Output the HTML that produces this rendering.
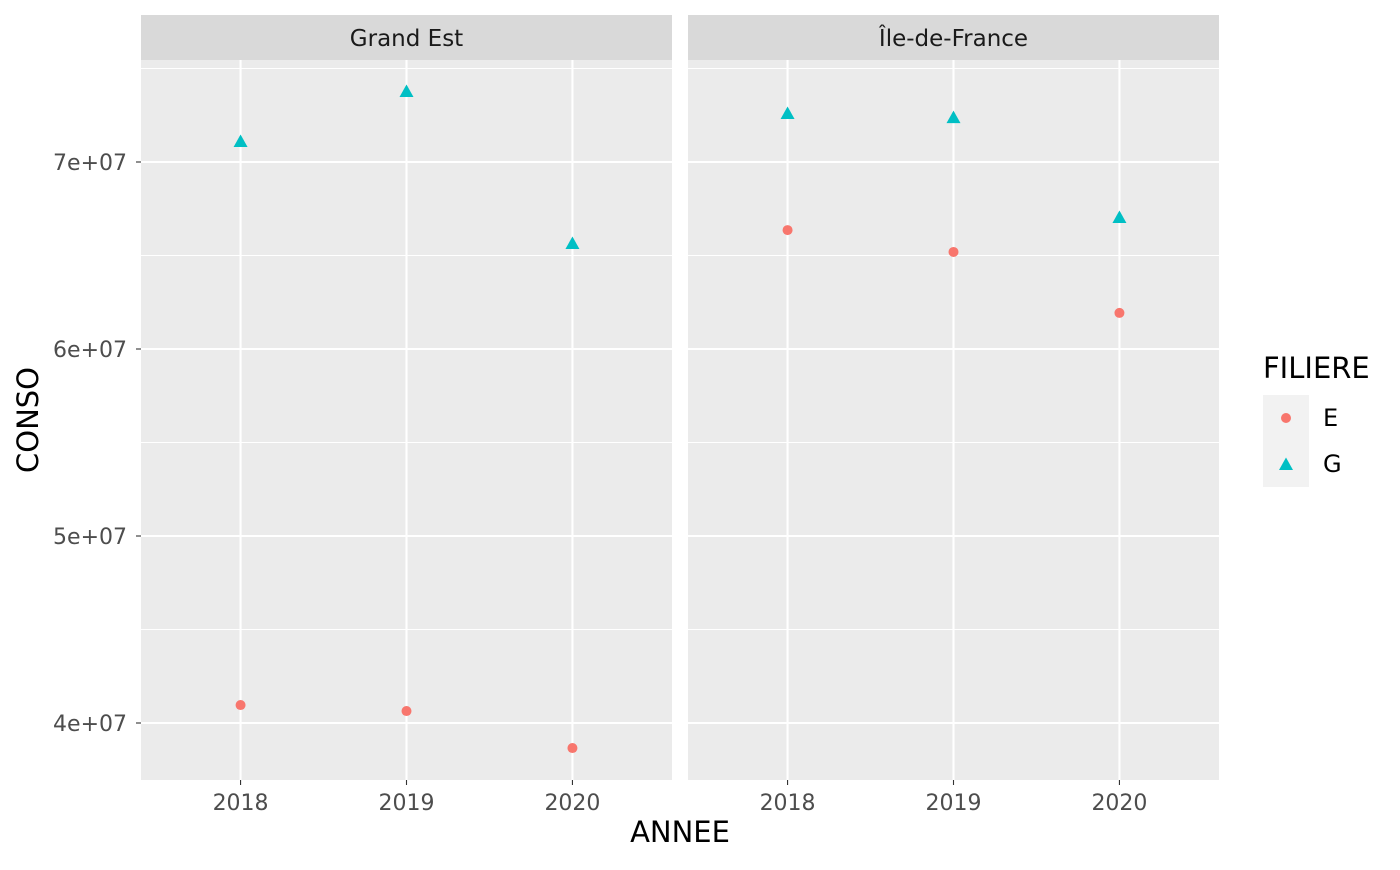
<!DOCTYPE html>
<html><head><meta charset="utf-8">
<style>
html,body{margin:0;padding:0;background:#fff;}
svg text{font-family:"DejaVu Sans","Liberation Sans",sans-serif;}
</style></head>
<body>
<svg id="chart" width="1400" height="865" xmlns="http://www.w3.org/2000/svg">
</svg>
<script>
const panels = ["Grand Est", "Île-de-France"];
const years = [2018, 2019, 2020];
const grandEstE = [40.96e6, 40.64e6, 38.66e6];
const grandEstG = [71.12e6, 73.8e6, 65.67e6];
const idfE = [66.36e6, 65.19e6, 61.93e6];
const idfG = [72.62e6, 72.4e6, 67.06e6];
const yTicks = [4e7, 5e7, 6e7, 7e7];
const yTickLabels = ["4e+07", "5e+07", "6e+07", "7e+07"];
const yMinor = [3.5e7, 4.5e7, 5.5e7, 6.5e7, 7.5e7];
const legendLabels = ["E", "G"];

const NS = "http://www.w3.org/2000/svg";
const svg = document.getElementById("chart");
function mk(tag, attrs, parent) {
  const e = document.createElementNS(NS, tag);
  for (const k in attrs) e.setAttribute(k, attrs[k]);
  (parent || svg).appendChild(e);
  return e;
}
const plotTop = 60, plotBottom = 780;
const panelX = [141, 688], panelW = 531;
function yScale(v) { return 162 + (7e7 - v) / 1e7 * 187; }
function xScale(p, yr) { return panelX[p] + (yr - 2017.4) / 3.2 * panelW; }
const series = [[grandEstE, grandEstG], [idfE, idfG]];

panels.forEach((name, p) => {
  const g = mk("g", {});
  
  
  const bg = mk("rect", {x: panelX[p], y: plotTop, width: panelW, height: plotBottom - plotTop, fill: "#ebebeb"}, g);
  
  
  const strip = mk("rect", {x: panelX[p], y: 15, width: panelW, height: 45, fill: "#d9d9d9"}, g);
  
  
  const st = mk("text", {x: panelX[p] + panelW / 2, y: 46, "text-anchor": "middle", "font-size": "23", fill: "#1a1a1a"}, g);
  st.textContent = name;
  
  
  yMinor.forEach(v => {
    const yy = yScale(v);
    if (yy < plotTop || yy > plotBottom) return;
    const l = mk("line", {x1: panelX[p], x2: panelX[p] + panelW, y1: yy, y2: yy, stroke: "#fff", "stroke-width": 1.1}, g);
    
    
  });
  yTicks.forEach(v => {
    const yy = yScale(v);
    const l = mk("line", {x1: panelX[p], x2: panelX[p] + panelW, y1: yy, y2: yy, stroke: "#fff", "stroke-width": 2.1}, g);
    
    
  });
  years.forEach(yr => {
    const xx = xScale(p, yr);
    const l = mk("line", {x1: xx, x2: xx, y1: plotTop, y2: plotBottom, stroke: "#fff", "stroke-width": 2.1}, g);
    
    
    const t = mk("line", {x1: xx, x2: xx, y1: plotBottom, y2: plotBottom + 5, stroke: "#333", "stroke-width": 1.1}, g);
    
    
    const tl = mk("text", {x: xx, y: 810, "text-anchor": "middle", "font-size": "22", fill: "#4d4d4d"}, g);
    tl.textContent = yr;
    
    
  });
  series[p][0].forEach((v, i) => {
    const c = mk("circle", {cx: xScale(p, years[i]), cy: yScale(v), r: 5, fill: "#f8766d"}, g);
    
    
  });
  series[p][1].forEach((v, i) => {
    const x = xScale(p, years[i]), y = yScale(v);
    const t = mk("polygon", {points: `${x},${y-6.5} ${x-7},${y+6} ${x+7},${y+6}`, fill: "#00bfc4"}, g);
    
    
  });
});

yTicks.forEach((v, i) => {
  const yy = yScale(v);
  const t = mk("line", {x1: 136, x2: 141, y1: yy, y2: yy, stroke: "#333", "stroke-width": 1.1});
  
  
  const tl = mk("text", {x: 127, y: yy + 8, "text-anchor": "end", "font-size": "22", fill: "#4d4d4d"});
  tl.textContent = yTickLabels[i];
  
  
});

const xt = mk("text", {x: 680, y: 842, "text-anchor": "middle", "font-size": "29", fill: "#000"});
xt.textContent = "ANNEE";


const yt = mk("text", {x: 0, y: 0, "text-anchor": "middle", "font-size": "29", fill: "#000", transform: "translate(38,420) rotate(-90)"});
yt.textContent = "CONSO";



const lg = mk("g", {});


const lt = mk("text", {x: 1263, y: 378, "font-size": "29", fill: "#000"}, lg);
lt.textContent = "FILIERE";


legendLabels.forEach((lab, i) => {
  const ky = 395 + i * 46;
  const kb = mk("rect", {x: 1263, y: ky, width: 46, height: 46, fill: "#f2f2f2"}, lg);
  
  
  const cx = 1286, cy = ky + 23;
  if (i === 0) {
    const c = mk("circle", {cx: cx, cy: cy, r: 5, fill: "#f8766d"}, lg);
    
    
  } else {
    const t = mk("polygon", {points: `${cx},${cy-6.5} ${cx-7},${cy+6} ${cx+7},${cy+6}`, fill: "#00bfc4"}, lg);
    
    
  }
  const tx = mk("text", {x: 1323, y: cy + 8, "font-size": "24", fill: "#000"}, lg);
  tx.textContent = lab;
  
  
});
</script>
</body></html>
